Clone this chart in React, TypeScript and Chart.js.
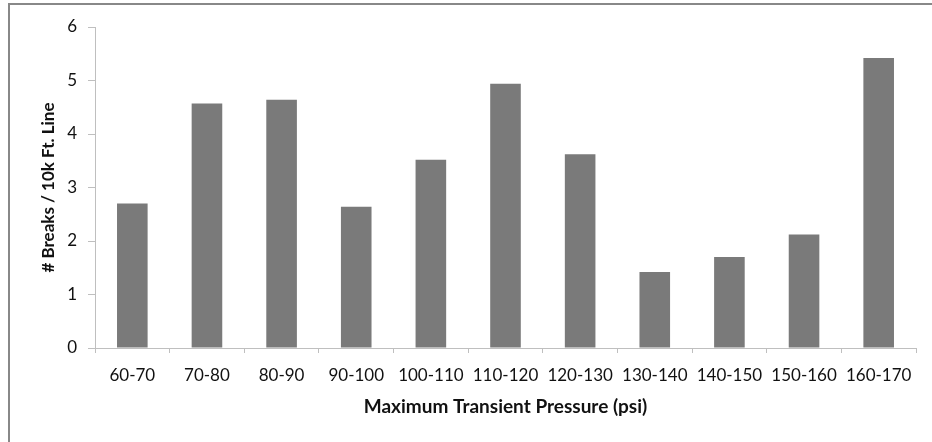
import React, { useEffect, useRef } from "react";
import { Chart, registerables } from "chart.js";

Chart.register(...registerables);

const categories = ["60-70", "70-80", "80-90", "90-100", "100-110", "110-120", "120-130", "130-140", "140-150", "150-160", "160-170"];
const breaksPer10kFt = [2.7, 4.57, 4.64, 2.64, 3.52, 4.94, 3.62, 1.42, 1.7, 2.12, 5.42];
const yTicks = [0, 1, 2, 3, 4, 5, 6];
const xTitle = "Maximum Transient Pressure (psi)";
const yTitle = "# Breaks / 10k Ft. Line";

export default function App() {
  const ref = useRef<HTMLCanvasElement>(null);
  useEffect(() => {
    if (!ref.current) return;
    const font = "Lato";
    const chart = new Chart(ref.current, {
      type: "bar",
      data: {
        labels: categories,
        datasets: [
          {
            data: breaksPer10kFt,
            backgroundColor: "#7a7a7a",
            borderWidth: 0,
            categoryPercentage: 1,
            barPercentage: 0.41,
          },
        ],
      },
      options: {
        animation: false,
        responsive: false,
        maintainAspectRatio: false,
        layout: { padding: { left: 0, top: 27, right: 16, bottom: 0 } },
        plugins: { legend: { display: false }, tooltip: { enabled: false } },
        scales: {
          x: {
            afterFit: (s: any) => {
              s.height = 94;
            },
            grid: {
              offset: true,
              drawOnChartArea: false,
              drawTicks: true,
              tickLength: 5,
              color: "#bfbfbf",
            },
            border: { color: "#bfbfbf", width: 1 },
            ticks: {
              color: "#111",
              font: { family: font, size: 17 },
              padding: 12,
              maxRotation: 0,
              autoSkip: false,
            },
            title: {
              display: true,
              text: xTitle,
              color: "#111",
              font: { family: font, size: 19, weight: "bold" },
              padding: { top: 0, bottom: 23.5 },
            },
          },
          y: {
            min: 0,
            max: 6,
            afterBuildTicks: (s: any) => {
              s.ticks = yTicks.map((v) => ({ value: v }));
            },
            afterFit: (s: any) => {
              s.width = 95;
            },
            grid: {
              drawOnChartArea: false,
              drawTicks: true,
              tickLength: 7,
              color: "#bfbfbf",
            },
            border: { color: "#bfbfbf", width: 1 },
            ticks: {
              color: "#111",
              font: { family: font, size: 17 },
              padding: 11,
            },
            title: {
              display: true,
              text: yTitle,
              color: "#111",
              font: { family: font, size: 17, weight: "bold" },
              padding: { top: 38, bottom: 0 },
            },
          },
        },
      },
    });
    return () => chart.destroy();
  }, []);

  return (
    <div
      style={{
        position: "fixed",
        left: 0,
        top: 0,
        width: 932,
        height: 442,
        overflow: "hidden",
        background: "#fff",
      }}
    >
      <canvas ref={ref} width={932} height={442} style={{ position: "absolute", left: 0, top: 0, width: 932, height: 442 }} />
      <div
        style={{
          position: "absolute",
          left: 8,
          top: 3,
          width: 960,
          height: 480,
          border: "2px solid #888",
          boxSizing: "border-box",
          pointerEvents: "none",
        }}
      />
    </div>
  );
}
